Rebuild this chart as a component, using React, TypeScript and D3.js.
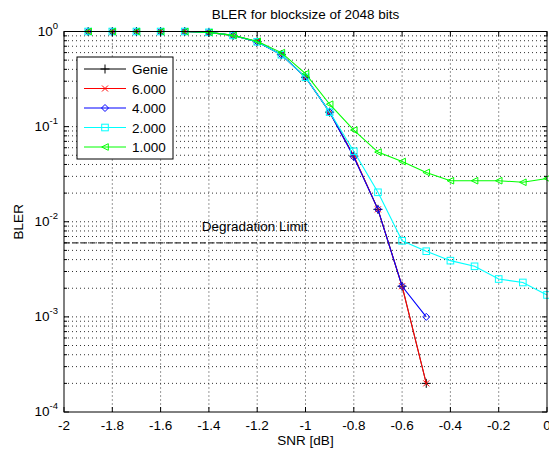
import React from 'react'
import * as d3 from 'd3'

// SNR grid (dB)
const snr = [-1.9, -1.8, -1.7, -1.6, -1.5, -1.4, -1.3, -1.2, -1.1, -1.0, -0.9, -0.8, -0.7, -0.6, -0.5, -0.4, -0.3, -0.2, -0.1, 0]

const genie = [1, 1, 1, 1, 1, 0.98, 0.91, 0.78, 0.57, 0.33, 0.142, 0.049, 0.0135, 0.0021, 0.0002]
const bler6 = [1, 1, 1, 1, 1, 0.98, 0.91, 0.78, 0.57, 0.33, 0.142, 0.049, 0.0135, 0.0021, 0.0002]
const bler4 = [1, 1, 1, 1, 1, 0.98, 0.91, 0.78, 0.57, 0.33, 0.142, 0.048, 0.0135, 0.0021, 0.001]
const bler2 = [1, 1, 1, 1, 1, 0.98, 0.91, 0.78, 0.57, 0.33, 0.142, 0.055, 0.0204, 0.0063, 0.0049, 0.0039, 0.0034, 0.0025, 0.0023, 0.0017]
const bler1 = [1, 1, 1, 1, 1, 0.98, 0.91, 0.79, 0.6, 0.36, 0.172, 0.092, 0.054, 0.043, 0.033, 0.027, 0.027, 0.027, 0.026, 0.0285]

const seriesNames = ['Genie', '6.000', '4.000', '2.000', '1.000']
const seriesColors = ['#000000', '#ff0000', '#0000ff', '#00ffff', '#00ff00']
const seriesMarkers = ['plus', 'x', 'diamond', 'square', 'tri']
const seriesValues = [genie, bler6, bler4, bler2, bler1]

const xTicks = [-2, -1.8, -1.6, -1.4, -1.2, -1, -0.8, -0.6, -0.4, -0.2, 0]
const xTickLabels = ['-2', '-1.8', '-1.6', '-1.4', '-1.2', '-1', '-0.8', '-0.6', '-0.4', '-0.2', '0']
const yDecades = [1e-4, 1e-3, 1e-2, 1e-1, 1]
const yExponents = ['-4', '-3', '-2', '-1', '0']

const degradationLimit = 0.006
const degradationLabel = { x: -1.43, y: 0.0088, text: 'Degradation Limit' }

const W = 549
const H = 449
const FONT = 'Liberation Sans, Arial, Helvetica, sans-serif'
const FS = 13.5

function Marker({ kind, x, y, color }: { kind: string; x: number; y: number; color: string }) {
  const sw = 1
  if (kind === 'plus') {
    const s = 4.5
    return <path d={`M${x - s},${y}H${x + s}M${x},${y - s}V${y + s}`} stroke={color} strokeWidth={sw} fill="none" />
  }
  if (kind === 'x') {
    const s = 3
    return <path d={`M${x - s},${y - s}L${x + s},${y + s}M${x - s},${y + s}L${x + s},${y - s}`} stroke={color} strokeWidth={sw} fill="none" />
  }
  if (kind === 'diamond') {
    const s = 3.5
    return <path d={`M${x},${y - s}L${x + s},${y}L${x},${y + s}L${x - s},${y}Z`} stroke={color} strokeWidth={sw} fill="none" />
  }
  if (kind === 'square') {
    const s = 3.3
    return <rect x={x - s} y={y - s} width={2 * s} height={2 * s} stroke={color} strokeWidth={sw} fill="none" />
  }
  const s = 3.3
  return <path d={`M${x - s},${y}L${x + s},${y - s}L${x + s},${y + s}Z`} stroke={color} strokeWidth={sw} fill="none" />
}

export default function App() {
  const left = 64
  const right = 547
  const top = 31.5
  const bottom = 412

  const x = d3.scaleLinear().domain([-2, 0]).range([left, right])
  const y = d3.scaleLog().domain([1e-4, 1]).range([bottom, top])

  const minorY: number[] = []
  for (let e = -4; e < 0; e++) for (let m = 2; m <= 9; m++) minorY.push(m * Math.pow(10, e))

  const line = d3.line<[number, number]>().x((d) => x(d[0])).y((d) => y(d[1]))

  const dot = '1 3'

  return (
    <svg width={W} height={H} style={{ position: 'absolute', left: 0, top: 0, background: '#fff' }} fontFamily={FONT}>
      <rect width={W} height={H} fill="#fff" />
      {/* grid */}
      <g stroke="#333" strokeWidth={1} strokeDasharray={dot} fill="none">
        {xTicks.slice(1, -1).map((t) => (
          <line key={'gx' + t} x1={x(t)} x2={x(t)} y1={top} y2={bottom} />
        ))}
        {yDecades.slice(1, -1).map((t) => (
          <line key={'gy' + t} x1={left} x2={right} y1={y(t)} y2={y(t)} />
        ))}
        {minorY.map((t) => (
          <line key={'gm' + t} x1={left} x2={right} y1={y(t)} y2={y(t)} />
        ))}
      </g>
      {/* degradation limit */}
      <line x1={left} x2={right} y1={y(degradationLimit)} y2={y(degradationLimit)} stroke="#333" strokeWidth={1.4} strokeDasharray="6 2.5" />
      <text x={x(degradationLabel.x)} y={y(degradationLabel.y)} dominantBaseline="middle" fontSize={FS} fill="#000">
        {degradationLabel.text}
      </text>
      {/* series */}
      {seriesValues.map((vals, i) => {
        const pts = vals.map((v, j) => [snr[j], v] as [number, number])
        return (
          <g key={seriesNames[i]}>
            <path d={line(pts) ?? ''} stroke={seriesColors[i]} strokeWidth={i === 0 ? 0.8 : 1.1} fill="none" />
            {pts.map((p, j) => (
              <Marker key={j} kind={seriesMarkers[i]} x={x(p[0])} y={y(p[1])} color={seriesColors[i]} />
            ))}
          </g>
        )
      })}
      {/* axes box */}
      <rect x={left} y={top} width={right - left} height={bottom - top} fill="none" stroke="#000" strokeWidth={1} />
      <g stroke="#000" strokeWidth={1}>
        {xTicks.map((t) => (
          <g key={'tx' + t}>
            <line x1={x(t)} x2={x(t)} y1={bottom} y2={bottom - 5} />
            <line x1={x(t)} x2={x(t)} y1={top} y2={top + 5} />
          </g>
        ))}
        {yDecades.map((t) => (
          <g key={'ty' + t}>
            <line x1={left} x2={left + 5} y1={y(t)} y2={y(t)} />
            <line x1={right} x2={right - 5} y1={y(t)} y2={y(t)} />
          </g>
        ))}
        {minorY.map((t) => (
          <g key={'tm' + t}>
            <line x1={left} x2={left + 3} y1={y(t)} y2={y(t)} />
            <line x1={right} x2={right - 3} y1={y(t)} y2={y(t)} />
          </g>
        ))}
      </g>
      {/* tick labels */}
      <g fontSize={FS} fill="#000">
        {xTicks.map((t, i) => (
          <text key={'lx' + t} x={x(t)} y={bottom + 18} textAnchor="middle">
            {xTickLabels[i]}
          </text>
        ))}
        {yDecades.map((t, i) => (
          <text key={'ly' + t} x={58} y={y(t) + 4} textAnchor="end">
            10
            <tspan dy={-7} fontSize={9.5}>
              {yExponents[i]}
            </tspan>
          </text>
        ))}
      </g>
      {/* titles */}
      <text x={(left + right) / 2} y={19} textAnchor="middle" fontSize={FS} fill="#000">
        BLER for blocksize of 2048 bits
      </text>
      <text x={(left + right) / 2} y={445} textAnchor="middle" fontSize={FS} fill="#000">
        SNR [dB]
      </text>
      <text transform={`translate(23,${(top + bottom) / 2}) rotate(-90)`} textAnchor="middle" fontSize={FS} fill="#000">
        BLER
      </text>
      {/* legend */}
      <g>
        <rect x={77} y={57} width={96} height={102} fill="#fff" stroke="#000" strokeWidth={1} />
        {seriesNames.map((name, i) => {
          const ly = 69 + i * 19.5
          return (
            <g key={'lg' + name}>
              <line x1={84} x2={126} y1={ly} y2={ly} stroke={seriesColors[i]} strokeWidth={1} />
              <Marker kind={seriesMarkers[i]} x={105} y={ly} color={seriesColors[i]} />
              <text x={132} y={ly + 5} fontSize={FS} fill="#000">
                {name}
              </text>
            </g>
          )
        })}
      </g>
    </svg>
  )
}
